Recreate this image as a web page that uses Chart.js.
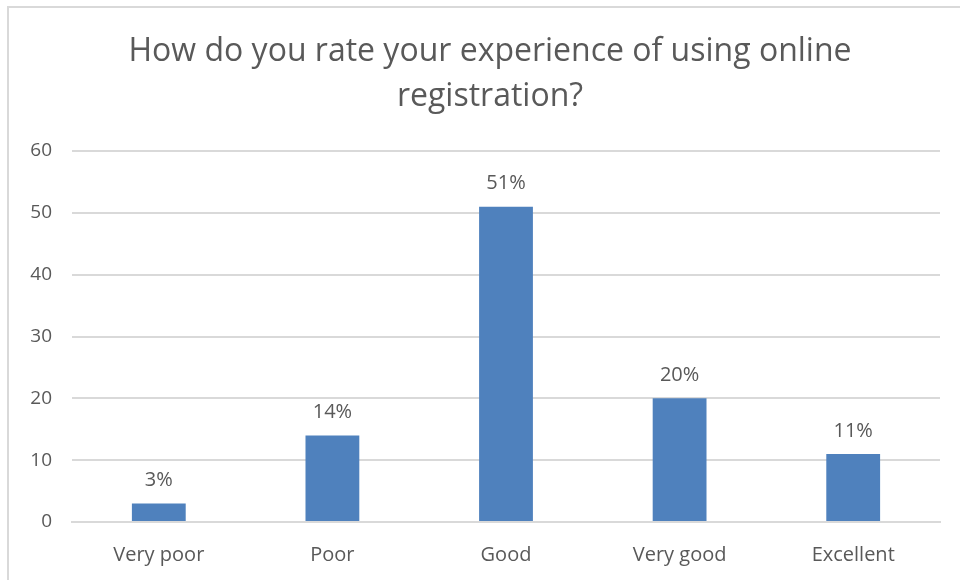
<!DOCTYPE html>
<html>
<head>
    <title>Online registration rating</title>
    <script src="https://cdn.jsdelivr.net/npm/chart.js"></script>
    <style>
        body {margin: 0; background: #fff;}
        #frame {position: absolute; left: 0; top: 0; width: 960px; height: 580px;}
        #frame:before {content: ''; position: absolute; left: 7px; top: 6px; right: 0; bottom: 0;
            border-left: 2px solid #d9d9d9; border-top: 2px solid #d9d9d9; pointer-events: none;}
    </style>
</head>
<body>
    <div id="frame">
        <canvas id="myChart" width="960" height="580"></canvas>
    </div>
    <script>
        var categories = ['Very poor', 'Poor', 'Good', 'Very good', 'Excellent'];
        var percentages = [3, 14, 51, 20, 11];
        var yTicks = [0, 10, 20, 30, 40, 50, 60];
        var titleLines = ['How do you rate your experience of using online', 'registration?'];

        var grey = '#595959';
        var fontFamily = '"Open Sans", Lato, sans-serif';

        // title (sits a bit right of the canvas centre) and percentage text above each bar
        var chartText = {
            id: 'chartText',
            afterDatasetsDraw: function(chart) {
                var ctx = chart.ctx;
                var meta = chart.getDatasetMeta(0);
                ctx.save();
                ctx.fillStyle = grey;
                ctx.textAlign = 'center';
                ctx.textBaseline = 'middle';
                ctx.font = '20px ' + fontFamily;
                meta.data.forEach(function(bar, i) {
                    ctx.fillText(percentages[i] + '%', bar.x, bar.y - 23);
                });
                ctx.font = '32px ' + fontFamily;
                titleLines.forEach(function(line, i) {
                    ctx.fillText(line, 490, 52 + i * 45);
                });
                ctx.restore();
            }
        };

        var ctx = document.getElementById('myChart').getContext('2d');
        new Chart(ctx, {
            type: 'bar',
            data: {
                labels: categories,
                datasets: [{
                    data: percentages,
                    backgroundColor: '#4f81bd',
                    barPercentage: 0.62,
                    categoryPercentage: 0.5
                }]
            },
            options: {
                responsive: false,
                animation: false,
                layout: {padding: {left: 10, right: 20, top: 151, bottom: 0}},
                plugins: {
                    legend: {display: false},
                    tooltip: {enabled: false},
                    title: {display: false}
                },
                scales: {
                    y: {
                        min: 0,
                        max: 60,
                        afterBuildTicks: function(axis) {
                            axis.ticks = yTicks.map(function(v) { return {value: v}; });
                        },
                        afterFit: function(axis) { axis.width = 62; },
                        grid: {color: '#d9d9d9', lineWidth: 2, drawTicks: false},
                        border: {display: false},
                        ticks: {color: grey, padding: 20, font: {family: fontFamily, size: 19}}
                    },
                    x: {
                        afterFit: function(axis) { axis.height = 58; },
                        grid: {display: false},
                        border: {color: '#d9d9d9', width: 2},
                        ticks: {color: grey, padding: 13, font: {family: fontFamily, size: 20}}
                    }
                }
            },
            plugins: [chartText]
        });
    </script>
</body>
</html>
